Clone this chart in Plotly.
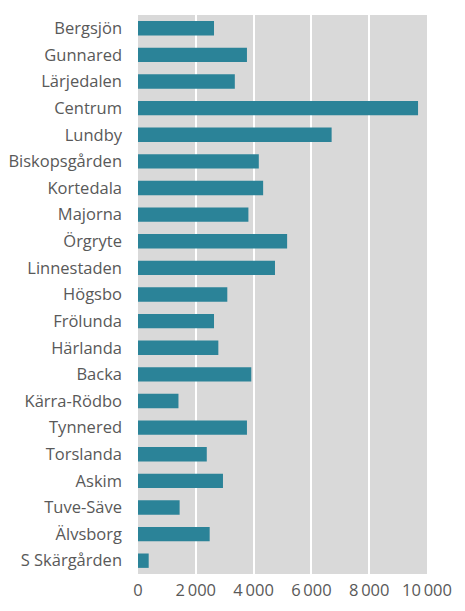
import plotly.graph_objects as go

districts = ["Bergsjön", "Gunnared", "Lärjedalen", "Centrum", "Lundby", "Biskopsgården",
             "Kortedala", "Majorna", "Örgryte", "Linnestaden", "Högsbo", "Frölunda",
             "Härlanda", "Backa", "Kärra-Rödbo", "Tynnered", "Torslanda", "Askim",
             "Tuve-Säve", "Älvsborg", "S Skärgården"]
values = [2630, 3770, 3350, 9690, 6700, 4180, 4330, 3820, 5160, 4740, 3090, 2630,
          2780, 3920, 1400, 3770, 2380, 2940, 1440, 2480, 370]
tick_vals = [0, 2000, 4000, 6000, 8000, 10000]
tick_text = ["0", "2\u2009000", "4\u2009000", "6\u2009000", "8\u2009000", "10\u2009000"]

fig = go.Figure(go.Bar(
    x=values, y=districts, orientation="h",
    marker=dict(color="#2b8398", line=dict(width=0)),
))
fig.update_layout(
    width=457, height=603,
    margin=dict(l=130, r=38, t=7, b=37, autoexpand=False),
    paper_bgcolor="white", plot_bgcolor="#d9d9d9",
    bargap=0.46,
    font=dict(family="Open Sans, sans-serif", size=16.5, color="#595959"),
    showlegend=False,
)
fig.update_xaxes(range=[0, 10000], tickvals=tick_vals, ticktext=tick_text,
                 showgrid=True, gridcolor="white", gridwidth=1.5, zeroline=False,
                 ticks="", showline=False, fixedrange=True, automargin=False,
                 tickfont=dict(size=16.5), ticklabelstandoff=4)
fig.update_yaxes(autorange="reversed", ticks="", showgrid=False, ticklabelstandoff=15,
                 showline=False, fixedrange=True, automargin=False)
fig.write_html("out.html")
